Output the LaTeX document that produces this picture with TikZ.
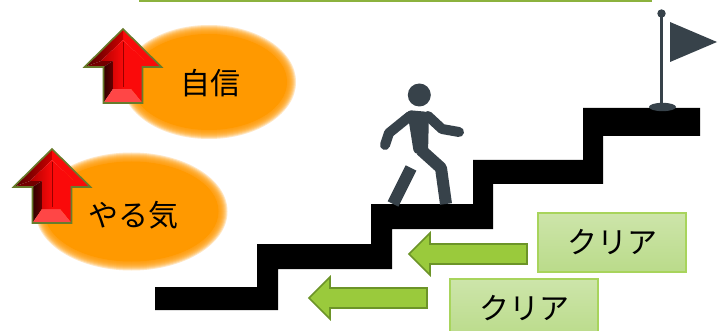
\documentclass[tikz,border=0pt]{standalone}
\usepackage{fontspec}
\newfontfamily\jp{Noto Sans CJK JP}

\definecolor{bloborange}{RGB}{255,153,0}
\definecolor{figgray}{RGB}{55,66,74}
\definecolor{arrgreen}{RGB}{154,202,60}
\definecolor{arredge}{RGB}{108,148,40}
\definecolor{boxtop}{RGB}{205,229,170}
\definecolor{boxbot}{RGB}{186,219,138}
\definecolor{boxedge}{RGB}{168,212,92}
\definecolor{rulegreen}{RGB}{140,178,62}
\definecolor{bevelolive}{RGB}{104,124,44}
\definecolor{lightred}{RGB}{255,70,70}
\definecolor{brightred}{RGB}{250,10,10}

\tikzset{
  label text/.style={font=\jp\fontsize{30}{30}\selectfont, text=black, inner sep=0pt},
  clearbox/.style={draw=boxedge, line width=1.2pt, top color=boxtop, bottom color=boxbot,
    minimum width=148pt, minimum height=59pt, inner sep=0pt,
    font=\jp\fontsize{30}{30}\selectfont},
  greenarrow/.style={fill=arrgreen, draw=arredge, line width=1.6pt, line join=miter},
  limb/.style={draw=figgray, line cap=round, line join=round},
}

% soft-edged orange ellipse: centre, x radius, y radius
\newcommand\softblob[3]{%
  \fill[bloborange] (#1) ellipse[x radius=#2pt-6pt, y radius=#3pt-6pt];
  \foreach \k in {1,...,9}{%
    \fill[bloborange, opacity=0.24] (#1) ellipse[x radius=#2pt-6pt+\k pt, y radius=#3pt-6pt+\k pt];
  }%
}

% bevelled red up arrow, tip at the given point
\newcommand\bevelarrow[1]{%
  \begin{scope}[shift={(#1)}]
    % right-hand bevel faces
    \fill[brightred] (0,0) -- (38.5,38) -- (19.5,38) -- (19.5,74) -- (8,60) -- (8,32) -- (22,32) -- (0,11) -- cycle;
    % left-hand bevel faces
    \shade[left color=red!30!black, right color=red!80!black]
      (0,0) -- (-38.5,38) -- (-22,32) -- (0,11) -- cycle;
    \fill[red!45!black] (-38.5,38) -- (-19.5,38) -- (-10,32) -- (-22,32) -- cycle;
    \shade[left color=black!80!red, right color=red!40!black]
      (-19.5,38) -- (-19.5,74) -- (-10,60) -- (-10,32) -- cycle;
    % bottom bevel face
    \fill[lightred] (-19.5,74) -- (19.5,74) -- (8,60) -- (-10,60) -- cycle;
    % front face
    \shade[left color=red!70!black, right color=brightred, middle color=brightred]
      (0,11) -- (22,32) -- (8,32) -- (8,60) -- (-10,60) -- (-10,32) -- (-22,32) -- cycle;
    \draw[red!60!black, line width=0.5pt] (0,13) -- (0,58);
    \draw[bevelolive, line width=1.6pt, line join=miter]
      (0,0) -- (38.5,38) -- (19.5,38) -- (19.5,74) -- (-19.5,74) -- (-19.5,38) -- (-38.5,38) -- cycle;
  \end{scope}%
}

% green arrow pointing left, tip at the given point
\newcommand\leftarrowshape[1]{%
  \draw[greenarrow, shift={(#1)}]
    (0,0) -- (21,-21) -- (21,-10) -- (118,-10) -- (118,10) -- (21,10) -- (21,21) -- cycle;
}

\begin{document}
\begin{tikzpicture}[x=1pt, y=-1pt]
  \clip (0,0) rectangle (725,331);
  \fill[white] (0,0) rectangle (725,331);

  % rule along the top edge
  \draw[rulegreen, line width=2pt] (139,0.6) -- (652,0.6);

  % glowing ellipses with labels
  \softblob{209,82}{84}{54}
  \softblob{131.5,211.5}{93}{56}
  \node[label text] (confidence) at (210,83) {自信};
  \node[label text] (motivation) at (133,215) {やる気};

  % rising red arrows
  \bevelarrow{123,29}
  \bevelarrow{52,149}

  % staircase
  \fill[black] (155,287) -- (257,287) -- (257,244) -- (371,244) -- (371,204) -- (473,204)
    -- (473,160) -- (583,160) -- (583,108) -- (700,108) -- (700,136) -- (603,136)
    -- (603,184) -- (493,184) -- (493,229) -- (392,229) -- (392,269) -- (278,269)
    -- (278,310) -- (155,310) -- cycle;

  % flag at the top
  \draw[figgray, line width=3.5pt] (661.5,14) -- (661.5,106);
  \fill[figgray] (661.5,13.5) circle[radius=4.2pt];
  \fill[figgray] (662.5,107) ellipse[x radius=13.5pt, y radius=4.2pt];
  \fill[figgray] (670,22) -- (717,42) -- (670,62) -- cycle;

  % walking figure
  \fill[figgray] (419.3,95) circle[radius=11.5pt];
  \fill[figgray, rounded corners=4pt] (407,110) -- (429,112) -- (428,154) -- (414,154) -- cycle;
  \draw[limb, line width=10pt] (410,116) -- (389,133) -- (385,145);
  \draw[limb, line width=10pt] (428,116) -- (442,129) -- (459,132);
  \draw[limb, line width=12pt, line cap=butt] (421,150) -- (441,168) -- (446,204);
  \draw[limb, line width=12pt, line cap=butt] (411,168) -- (393,204);

  % green arrows
  \leftarrowshape{409,254}
  \leftarrowshape{309,298}

  % cleared-step boxes
  \node[clearbox] (clearupper) at (612,242.5) {クリア};
  \node[clearbox] (clearlower) at (524,308.5) {クリア};
\end{tikzpicture}
\end{document}
